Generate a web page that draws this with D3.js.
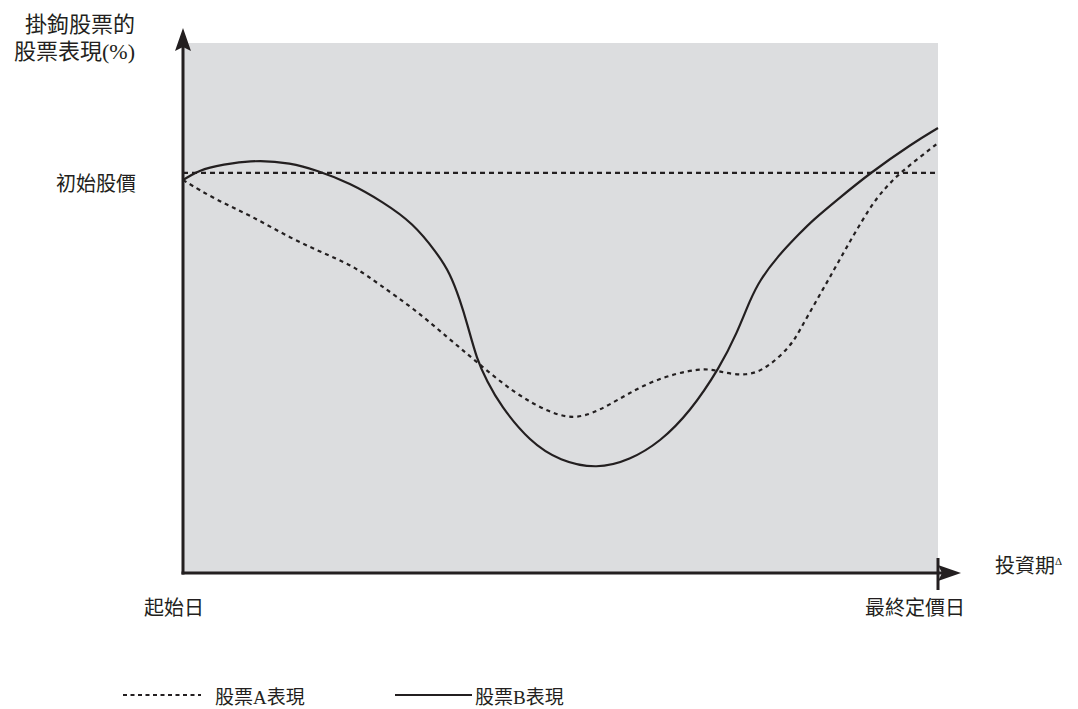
<!DOCTYPE html>
<html>
<head>
<meta charset="utf-8">
<script src="https://cdn.jsdelivr.net/npm/d3@7"></script>
<style>
html,body{margin:0;padding:0;background:#fff;}
text{font-family:"Liberation Serif","Noto Sans CJK TC",serif;fill:#231f20;}
</style>
</head>
<body>
<svg id="chart" width="1078" height="709"></svg>
<script>
// ---- data (x: investment period 0–100, y: stock performance %) ----
const stockA_x = [0, 4.37, 8.87, 14.17, 19.47, 22.78, 26.09, 30.46, 34.97, 38.91, 43.82, 48.61, 52.19, 56.16, 61.85, 68.87, 71.13, 74.70, 77.35, 80.40, 81.72, 83.71, 85.70, 87.68, 90.99, 92.98, 94.97, 97.62, 100];
const stockA_y = [74.15, 70.38, 67.55, 63.21, 59.81, 57.74, 54.34, 50.00, 44.53, 39.81, 33.96, 30.19, 28.9, 31.32, 36.42, 38.9, 37.92, 37.1, 38.68, 42.64, 45.85, 50.94, 55.85, 60.94, 69.06, 72.64, 75.47, 78.49, 81.13];
const stockB_x = [0, 2.65, 6.62, 10.20, 14.17, 17.62, 22.12, 26.49, 30.46, 33.64, 35.36, 36.69, 37.62, 38.94, 40.26, 41.99, 45.96, 49.93, 54.83, 59.21, 63.18, 67.15, 71.13, 73.38, 75.10, 76.42, 78.68, 81.72, 83.44, 86.62, 90.99, 96.69, 100];
const stockB_y = [74.15, 76.42, 77.36, 77.9, 77.36, 76.04, 73.58, 70.00, 66.04, 60.38, 56.60, 51.51, 47.17, 40.19, 36.23, 31.70, 24.72, 21.13, 19.6, 21.32, 24.72, 30.38, 38.87, 45.28, 51.51, 55.28, 59.62, 64.15, 66.60, 70.38, 75.47, 81.13, 83.96];
const initialPrice = 75.5;
const yTitleLines = ["掛鉤股票的", "股票表現(%)"];
const yTickLabel = "初始股價";
const xStartLabel = "起始日";
const xEndLabel = "最終定價日";
const xTitle = "投資期";
const xTitleMark = "Δ";
const legendLabels = ["股票A表現", "股票B表現"];

// ---- layout ----
const svg = d3.select("#chart");
const ink = "#231f20";
const x = d3.scaleLinear().domain([0, 100]).range([183, 938]);
const y = d3.scaleLinear().domain([0, 100]).range([573, 43]);

// plot background
svg.append("rect")
  .attr("x", x(0)).attr("y", y(100))
  .attr("width", x(100) - x(0)).attr("height", y(0) - y(100))
  .attr("fill", "#dcdddf");

const line = d3.line().x(d => x(d[0])).y(d => y(d[1])).curve(d3.curveBasis);

// initial price dashed line
svg.append("line")
  .attr("x1", x(0)).attr("x2", x(100))
  .attr("y1", y(initialPrice)).attr("y2", y(initialPrice))
  .attr("stroke", ink).attr("stroke-width", 2.2)
  .attr("stroke-dasharray", "5,4");

// stock A (dashed)
svg.append("path")
  .datum(d3.zip(stockA_x, stockA_y))
  .attr("d", line)
  .attr("fill", "none").attr("stroke", ink)
  .attr("stroke-width", 2.2).attr("stroke-dasharray", "4,4");

// stock B (solid)
svg.append("path")
  .datum(d3.zip(stockB_x, stockB_y))
  .attr("d", line)
  .attr("fill", "none").attr("stroke", ink)
  .attr("stroke-width", 2.2);

// axes
svg.append("line").attr("x1", x(0)).attr("x2", x(0)).attr("y1", 45).attr("y2", y(0) + 1.5)
  .attr("stroke", ink).attr("stroke-width", 3);
svg.append("line").attr("x1", x(0) - 1.5).attr("x2", 950).attr("y1", y(0)).attr("y2", y(0))
  .attr("stroke", ink).attr("stroke-width", 3);
// arrowheads
svg.append("path").attr("d", `M${x(0)},28 L${x(0) + 8},51 L${x(0)},47 L${x(0) - 8},51 Z`).attr("fill", ink);
svg.append("path").attr("d", `M961,${y(0)} L938,${y(0) - 8} L942,${y(0)} L938,${y(0) + 8} Z`).attr("fill", ink);
// end tick
svg.append("line").attr("x1", x(100)).attr("x2", x(100)).attr("y1", 558).attr("y2", 590)
  .attr("stroke", ink).attr("stroke-width", 3);

// y title
svg.selectAll(".ytitle").data(yTitleLines).join("text")
  .attr("class", "ytitle")
  .attr("x", 135).attr("y", (d, i) => 32 + i * 27)
  .attr("text-anchor", "end").attr("font-size", 22)
  .text(d => d);

// y label
svg.append("text").attr("x", 136).attr("y", 191).attr("text-anchor", "end")
  .attr("font-size", 20).text(yTickLabel);

// x labels
svg.append("text").attr("x", 174).attr("y", 615).attr("text-anchor", "middle")
  .attr("font-size", 20).text(xStartLabel);
svg.append("text").attr("x", 915).attr("y", 615).attr("text-anchor", "middle")
  .attr("font-size", 20).text(xEndLabel);
const xt = svg.append("text").attr("x", 995).attr("y", 573).attr("font-size", 20);
xt.append("tspan").text(xTitle);
xt.append("tspan").attr("font-size", 11).attr("dy", -8).text(xTitleMark);

// legend
svg.append("line").attr("x1", 123).attr("x2", 201).attr("y1", 695).attr("y2", 695)
  .attr("stroke", ink).attr("stroke-width", 2).attr("stroke-dasharray", "4,3.5");
svg.append("text").attr("x", 215).attr("y", 704).attr("font-size", 19).text(legendLabels[0]);
svg.append("line").attr("x1", 395).attr("x2", 472).attr("y1", 695).attr("y2", 695)
  .attr("stroke", ink).attr("stroke-width", 2.2);
svg.append("text").attr("x", 475).attr("y", 704).attr("font-size", 19).text(legendLabels[1]);
</script>
</body>
</html>
